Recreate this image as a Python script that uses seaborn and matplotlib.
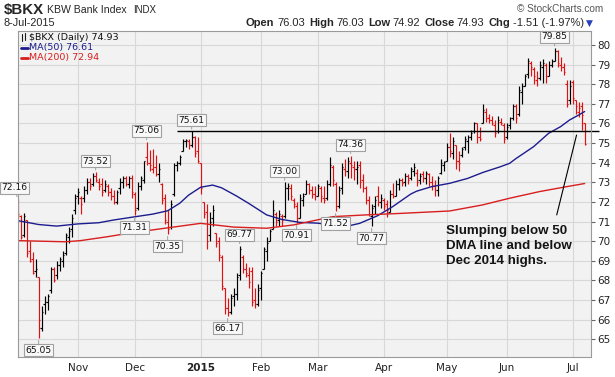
import matplotlib
matplotlib.use("Agg")
import matplotlib.pyplot as plt
from matplotlib.lines import Line2D
import numpy as np
import pandas as pd
import seaborn as sns

# ---------------- data ----------------
holidays = ["2014-11-27", "2014-12-25", "2015-01-01", "2015-01-19",
            "2015-02-16", "2015-04-03", "2015-05-25", "2015-07-03"]

opens = [72.0, 71.3, 70.3, 71.1, 69.5, 69.1, 68.5, 68.2, 65.6, 66.8,
         66.9, 67.5, 68.6, 68.3, 68.8, 69.0, 69.4, 70.2, 70.6, 71.6,
         72.3, 72.2, 72.2, 72.6, 73.0, 72.9, 73.3, 73.0, 72.9, 72.6,
         72.8, 72.5, 72.3, 72.0, 72.7, 73.0, 73.2, 72.9, 73.2, 72.4,
         71.7, 72.8, 73.1, 74.3, 74.0, 73.7, 73.8, 73.4, 72.9, 72.2,
         71.0, 70.7, 72.4, 73.9, 74.0, 74.6, 75.1, 75.1, 74.9, 75.3,
         74.6, 74.0, 72.0, 71.5, 70.3, 71.2, 70.4, 70.0, 69.2, 67.6,
         66.6, 66.4, 67.2, 67.3, 68.3, 69.2, 68.6, 68.3, 68.5, 67.0,
         66.8, 67.6, 68.6, 69.5, 70.0, 70.6, 71.4, 71.1, 71.3, 71.3,
         72.7, 72.7, 72.1, 71.8, 71.2, 72.1, 72.4, 72.9, 72.6, 72.4,
         72.3, 72.7, 72.2, 72.2, 72.9, 73.8, 72.9, 71.8, 72.7, 73.7,
         73.6, 74.0, 73.8, 73.7, 73.9, 73.1, 72.7, 72.1, 71.3, 71.8,
         72.3, 72.0, 72.1, 71.9, 71.5, 72.4, 72.3, 72.9, 73.1, 73.0,
         73.3, 73.2, 73.6, 73.5, 73.1, 73.4, 73.2, 73.4, 73.0, 72.8,
         72.6, 73.5, 73.9, 74.1, 74.8, 74.5, 74.9, 74.1, 74.4, 74.8,
         75.1, 75.3, 75.6, 76.0, 75.3, 76.0, 76.6, 76.3, 76.2, 75.9,
         75.6, 76.1, 75.9, 75.3, 75.9, 76.3, 76.9, 76.5, 77.6, 77.9,
         78.5, 79.1, 78.8, 78.2, 78.3, 78.9, 79.0, 78.4, 79.0, 79.2,
         79.7, 79.0, 78.9, 78.0, 77.2, 78.1, 77.2, 76.6, 76.9, 76.03]

highs = [72.16, 71.35, 71.45, 71.1, 70.0, 69.45, 69.1, 68.2, 66.7, 67.2,
         67.3, 68.7, 68.7, 69.0, 69.2, 69.5, 70.4, 70.7, 71.4, 72.4,
         72.7, 72.3, 72.8, 73.2, 73.2, 73.5, 73.52, 73.2, 73.2, 73.1,
         72.9, 72.7, 72.6, 72.6, 73.2, 73.3, 73.3, 73.3, 73.35, 72.5,
         73.0, 73.3, 74.1, 75.06, 74.65, 74.7, 74.4, 74.0, 72.95, 72.4,
         71.6, 72.1, 74.0, 74.1, 74.4, 75.2, 75.2, 75.2, 75.61, 75.35,
         75.3, 74.0, 72.0, 71.9, 71.5, 71.85, 70.4, 70.2, 69.3, 67.6,
         67.1, 67.3, 67.6, 68.4, 69.77, 69.3, 68.9, 68.7, 68.7, 67.6,
         67.8, 68.5, 69.7, 70.2, 70.6, 72.1, 71.5, 71.6, 71.4, 73.0,
         72.95, 72.9, 72.2, 72.0, 72.4, 72.45, 73.1, 72.95, 72.8, 72.8,
         72.9, 72.8, 72.8, 73.1, 74.3, 73.9, 73.0, 72.8, 74.0, 74.2,
         74.3, 74.36, 74.1, 74.1, 74.1, 73.4, 72.8, 72.3, 71.9, 72.3,
         72.8, 72.4, 72.2, 72.1, 72.6, 72.95, 73.1, 73.2, 73.2, 73.46,
         73.4, 73.8, 73.97, 73.7, 73.5, 73.6, 73.6, 73.5, 73.3, 73.1,
         73.3, 74.2, 74.1, 74.99, 75.5, 75.3, 74.9, 74.6, 74.8, 75.35,
         75.4, 75.67, 76.1, 76.0, 75.8, 77.0, 76.8, 76.5, 76.4, 76.2,
         76.4, 76.3, 76.0, 76.0, 76.35, 77.0, 77.0, 77.9, 78.05, 78.5,
         79.35, 79.2, 78.9, 78.7, 79.2, 79.3, 79.1, 79.2, 79.3, 79.85,
         79.75, 79.4, 79.07, 78.2, 78.2, 78.2, 77.2, 77.1, 77.1, 76.03]

lows = [71.2, 70.1, 70.2, 69.2, 68.95, 68.35, 68.2, 65.05, 65.4, 66.3,
        66.5, 67.35, 67.9, 68.05, 68.5, 68.7, 69.3, 69.9, 70.2, 71.4,
        71.9, 71.4, 72.0, 72.4, 72.6, 72.8, 73.0, 72.6, 72.3, 72.5,
        72.3, 72.1, 71.9, 71.9, 72.4, 72.7, 72.8, 72.7, 72.2, 71.31,
        71.6, 72.6, 72.95, 73.9, 73.6, 73.5, 73.3, 73.0, 71.9, 70.9,
        70.35, 70.6, 72.3, 73.6, 73.9, 74.6, 74.8, 74.7, 74.8, 74.3,
        74.0, 72.4, 71.2, 69.6, 70.0, 70.8, 69.7, 69.0, 67.5, 66.3,
        66.17, 66.3, 66.7, 67.0, 68.0, 68.4, 68.2, 67.6, 66.7, 66.6,
        66.7, 67.0, 68.6, 69.0, 70.0, 70.6, 70.8, 70.8, 70.8, 71.2,
        72.1, 72.1, 71.7, 70.91, 71.2, 71.8, 72.4, 72.4, 72.2, 72.1,
        72.3, 72.0, 71.95, 72.1, 72.8, 72.8, 71.52, 71.7, 72.4, 73.3,
        73.2, 73.2, 73.1, 72.9, 72.7, 72.5, 71.9, 71.3, 70.77, 71.4,
        71.8, 71.7, 71.6, 71.25, 71.5, 72.2, 72.3, 72.6, 72.8, 72.8,
        72.9, 73.1, 73.3, 72.8, 72.9, 73.0, 72.9, 72.8, 72.6, 72.3,
        72.3, 73.4, 73.6, 74.1, 74.3, 74.2, 73.7, 73.6, 74.3, 74.65,
        74.5, 75.16, 75.5, 75.0, 75.1, 76.0, 76.1, 76.0, 75.9, 75.3,
        75.5, 75.9, 75.0, 75.2, 75.7, 76.2, 76.0, 76.4, 77.0, 77.9,
        78.3, 78.4, 78.0, 77.9, 78.2, 78.05, 78.05, 78.4, 78.9, 79.2,
        78.9, 78.7, 78.47, 76.86, 77.0, 77.0, 76.5, 76.35, 75.67, 74.92]

closes = [71.4, 70.2, 71.3, 69.4, 69.0, 68.4, 68.6, 66.0, 66.4, 66.9,
          67.2, 68.6, 68.0, 68.8, 69.1, 69.3, 70.3, 70.5, 71.2, 72.2,
          72.5, 71.9, 72.6, 73.0, 72.8, 73.3, 73.1, 72.8, 72.5, 72.9,
          72.5, 72.3, 72.0, 72.5, 73.0, 73.2, 72.9, 73.2, 72.5, 71.6,
          72.8, 73.2, 74.1, 74.0, 73.9, 73.8, 73.4, 73.7, 72.1, 71.1,
          70.6, 71.9, 73.9, 74.0, 74.3, 75.1, 75.15, 74.9, 75.3, 74.5,
          74.1, 72.7, 71.4, 70.0, 71.0, 71.6, 69.9, 69.3, 67.7, 66.6,
          66.4, 67.1, 67.3, 68.2, 69.6, 68.6, 68.4, 67.9, 66.9, 66.8,
          67.5, 68.4, 69.6, 69.9, 70.5, 71.6, 71.0, 71.4, 71.1, 72.7,
          72.8, 72.3, 71.9, 71.2, 72.2, 72.3, 72.9, 72.6, 72.4, 72.3,
          72.8, 72.3, 72.1, 72.9, 73.9, 73.1, 71.8, 72.6, 73.8, 73.6,
          74.1, 73.9, 73.7, 73.8, 73.0, 72.7, 72.1, 71.4, 71.7, 72.1,
          72.0, 72.2, 71.8, 71.6, 72.4, 72.3, 72.9, 73.1, 72.95, 73.3,
          73.1, 73.7, 73.8, 73.0, 73.3, 73.2, 73.5, 73.0, 72.8, 72.6,
          73.2, 74.0, 74.05, 74.8, 74.6, 75.1, 74.1, 74.0, 74.7, 75.2,
          75.3, 75.5, 76.0, 75.3, 75.2, 76.7, 76.3, 76.2, 76.0, 75.5,
          76.2, 76.0, 75.2, 75.8, 76.3, 76.9, 76.3, 77.7, 77.9, 78.4,
          79.2, 78.9, 78.4, 78.3, 79.0, 79.1, 78.4, 79.0, 79.2, 79.7,
          79.1, 78.9, 78.6, 77.0, 77.9, 77.3, 76.9, 76.8, 76.44, 74.93]

ma50_days = [0, 7, 13, 20, 27, 32, 38, 45, 50, 54, 57, 61, 65, 68, 73, 77,
             83, 88, 94, 100, 105, 110, 114, 120, 125, 131, 133, 138, 144,
             150, 155, 161, 164, 166, 172, 177, 181, 184, 187, 189]
ma50_vals = [71.05, 70.85, 70.77, 70.88, 70.94, 71.08, 71.22, 71.38, 71.55,
             71.93, 72.35, 72.75, 72.86, 72.72, 72.3, 71.93, 71.34, 71.11,
             70.96, 70.92, 70.82, 70.77, 70.91, 71.3, 71.76, 72.4, 72.55,
             72.78, 72.95, 73.2, 73.5, 73.8, 73.97, 74.2, 74.82, 75.5,
             75.84, 76.18, 76.43, 76.61]

ma200_days = [0, 16, 21, 30, 38, 50, 61, 72, 83, 92, 105, 116, 128, 144,
              155, 164, 174, 183, 189]
ma200_vals = [70.03, 69.97, 70.03, 70.23, 70.43, 70.68, 70.91, 70.72, 70.66,
              70.83, 71.25, 71.34, 71.42, 71.54, 71.85, 72.19, 72.53, 72.78,
              72.94]

high_label_days = [0, 26, 43, 58, 74, 89, 111, 179]
low_label_days = [7, 39, 50, 70, 93, 106, 118]
resistance_start_day = 53

month_labels = ["Nov", "Dec", "2015", "Feb", "Mar", "Apr", "May", "Jun", "Jul"]
y_ticks = list(range(65, 81))

# ---------------- setup ----------------
sns.set_theme(style="white")
plt.rcParams['font.family'] = ['DejaVu Sans']

dates = pd.bdate_range("2014-10-06", "2015-07-08")
dates = dates[~dates.isin(pd.to_datetime(holidays))]
n = len(dates)
idx = np.arange(n)
df = pd.DataFrame({"day": idx, "date": dates, "open": opens, "high": highs,
                   "low": lows, "close": closes})
prev = df["close"].shift(1)
df["up"] = df["close"] >= prev
BLACK = "#000000"
RED = "#e01010"
cols = [BLACK if u else RED for u in df["up"]]
cols[0] = RED

W, H = 615, 377
fig = plt.figure(figsize=(W / 100, H / 100), dpi=100)
fig.patch.set_facecolor("white")
L, R, T, B = 18, 591, 31, 357
ax = fig.add_axes([L / W, 1 - B / H, (R - L) / W, (B - T) / H])
ax.set_facecolor("#f2f2f2")

x_left = 0.12
x_right = x_left + (R - L) / 3.0
y_bot = 65 - (B - 339.3) / 19.62
y_top = 80 + (45 - T) / 19.62
ax.set_xlim(x_left, x_right)
ax.set_ylim(y_bot, y_top)

# grid
month_pos = [i for i in range(1, n) if dates[i].month != dates[i - 1].month]
ax.set_xticks(month_pos)
ax.set_xticklabels(month_labels)
ax.set_yticks(y_ticks)
ax.grid(True, color="#d8d8d8", lw=0.8)
ax.set_axisbelow(True)

# OHLC bars
lw = 0.85
vl = ax.vlines(df["day"], df["low"], df["high"], colors=cols, lw=lw)
ol = ax.hlines(df["open"], df["day"] - 0.45, df["day"], colors=cols, lw=lw)
cl = ax.hlines(df["close"], df["day"], df["day"] + 0.45, colors=cols, lw=lw)
for c in (vl, ol, cl):
    c.set_snap(True)

# moving averages
sns.lineplot(x=ma50_days, y=ma50_vals, ax=ax, color="#1c1c8e", lw=1.0,
             estimator=None, legend=False)
sns.lineplot(x=ma200_days, y=ma200_vals, ax=ax, color="#d81e1e", lw=1.0,
             estimator=None, legend=False)

# resistance line at Dec high
res_level = highs[high_label_days[3]]
ax.hlines(res_level, resistance_start_day, x_right + 2.7, colors="black",
          lw=1.0, clip_on=False)

# value labels
box = dict(boxstyle="square,pad=0.18", fc="#f8f8f8", ec="#a0a0a0", lw=0.8)
for d in high_label_days:
    v = highs[d]
    dx = -3 if d == 0 else 0
    ax.annotate(f"{v:.2f}", xy=(d, v), xytext=(dx, 11), textcoords="offset pixels",
                ha="center", va="center", fontsize=6.6, color="#111", bbox=box,
                annotation_clip=False,
                arrowprops=dict(arrowstyle="-", color="#a0a0a0", lw=0.7,
                                shrinkA=0, shrinkB=1.5))
for d in low_label_days:
    v = lows[d]
    ax.annotate(f"{v:.2f}", xy=(d, v), xytext=(0, -12), textcoords="offset pixels",
                ha="center", va="center", fontsize=6.6, color="#111", bbox=box,
                annotation_clip=False,
                arrowprops=dict(arrowstyle="-", color="#a0a0a0", lw=0.7,
                                shrinkA=0, shrinkB=1.5))

# commentary
ax.text(142.7, 70.83, "Slumping below 50\nDMA line and below\nDec 2014 highs.",
        fontsize=9.6, fontweight="bold", family="Liberation Sans",
        va="top", ha="left", linespacing=1.32, color="#141414")
ax.annotate("", xy=(186.3, 75.41), xytext=(179.7, 71.34),
            arrowprops=dict(arrowstyle="-", color="black", lw=0.8,
                            shrinkA=0, shrinkB=0))

# axes styling
for s in ax.spines.values():
    s.set_color("#9a9a9a")
    s.set_linewidth(0.8)
ax.spines["bottom"].set_linestyle((0, (1, 1)))
ax.yaxis.tick_right()
ax.tick_params(axis="y", length=3, width=0.8, color="#666666", pad=1.5,
               labelsize=7.5, labelcolor="#222222")
ax.tick_params(axis="x", length=0, pad=4, labelsize=7.5, labelcolor="#222222")
for lab in ax.get_xticklabels():
    if lab.get_text() == "2015":
        lab.set_fontweight("bold")
ax.set_xlabel("")
ax.set_ylabel("")

# ---------------- header ----------------
def px(x, y):
    return x / W, 1 - y / H

renderer = fig.canvas.get_renderer()

fig.text(*px(4, 10), "$BKX", fontsize=10.8, fontweight="bold",
         family="Liberation Sans", va="center", ha="left")
t_name = fig.text(*px(47, 10), "KBW Bank Index", fontsize=7.6,
                  family="Liberation Sans", va="center", ha="left")
name_end = t_name.get_window_extent(renderer).x1
fig.text((name_end + 7) / W, 1 - 10 / H, "INDX", fontsize=7.0,
         family="Liberation Sans", va="center", ha="left")
fig.text(*px(4, 23), "8-Jul-2015", fontsize=7.8, family="Liberation Sans",
         va="center", ha="left")
fig.text(*px(603, 9), "\u00a9 StockCharts.com", fontsize=7.2,
         family="Liberation Sans", va="center", ha="right", color="#555555")

pieces = [("Open", "bold"), ("76.03", "normal"), ("High", "bold"),
          ("76.03", "normal"), ("Low", "bold"), ("74.92", "normal"),
          ("Close", "bold"), ("74.93", "normal"), ("Chg", "bold"),
          ("-1.51 (-1.97%)", "normal")]
xcur = 246
for k, (s, w) in enumerate(pieces):
    t = fig.text(*px(xcur, 23), s, fontsize=8.0, fontweight=w,
                 family="Liberation Sans", va="center", ha="left")
    bb = t.get_window_extent(renderer)
    gap = 2.5 if w == "bold" else 4.0
    xcur += bb.width + gap
fig.text(*px(xcur - 2, 23), "\u25bc", fontsize=6.5, color="#2a3fc0",
         va="center", ha="left")

# legend inside the plot
fig.add_artist(Line2D([22 / W, 22 / W], [1 - 34 / H, 1 - 41 / H], color="k", lw=0.8))
fig.add_artist(Line2D([25 / W, 25 / W], [1 - 33 / H, 1 - 40 / H], color="k", lw=0.8))
fig.text(*px(29, 37.5), f"$BKX (Daily) {closes[-1]:.2f}", fontsize=6.8,
         va="center", ha="left", color="#111111")
fig.add_artist(Line2D([21 / W, 28 / W], [1 - 47.5 / H, 1 - 47.5 / H],
                      color="#1c1c8e", lw=2.0))
fig.text(*px(29, 47.5), f"MA(50) {ma50_vals[-1]:.2f}", fontsize=6.8,
         va="center", ha="left", color="#1c1c8e")
fig.add_artist(Line2D([21 / W, 28 / W], [1 - 57.5 / H, 1 - 57.5 / H],
                      color="#d81e1e", lw=2.0))
fig.text(*px(29, 57.5), f"MA(200) {ma200_vals[-1]:.2f}", fontsize=6.8,
         va="center", ha="left", color="#d81e1e")

fig.savefig("out.png", dpi=100, facecolor="white")
